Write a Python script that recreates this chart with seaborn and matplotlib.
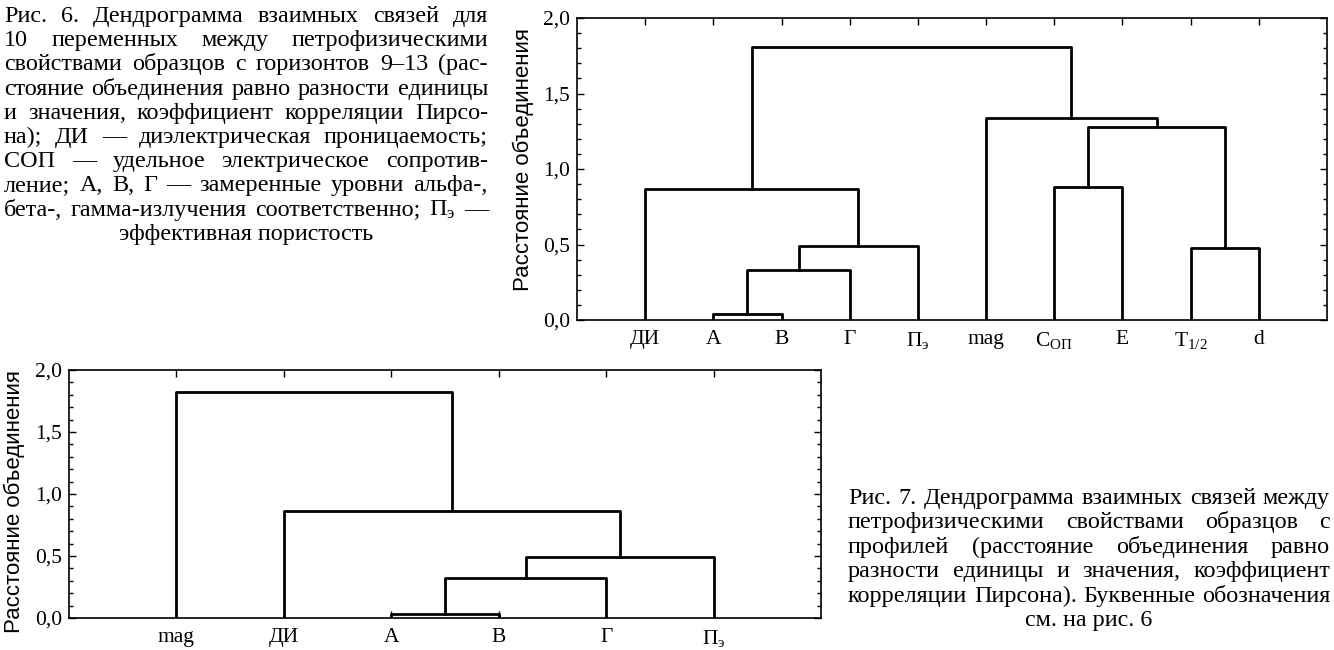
import numpy as np
import pandas as pd
import matplotlib
matplotlib.use("Agg")
import matplotlib.pyplot as plt
import seaborn as sns
from matplotlib.ticker import MultipleLocator, FixedLocator, FixedFormatter

# ---------------- data ----------------
# Fig. 6 (top): leaves in dendrogram order
leaves_top = ["ДИ", "А", "В", "Г", r"П$_{\mathregular{э}}$", "mag",
              r"С$_{\mathregular{ОП}}$", "Е", r"T$_{\mathregular{1/2}}$", "d"]
# merges: (child_a, child_b, height); new cluster ids start at len(leaves)
merge_a_top = [1, 10, 11, 0, 6, 8, 14, 5, 13]
merge_b_top = [2, 3, 4, 12, 7, 9, 15, 16, 17]
merge_h_top = [0.04, 0.33, 0.49, 0.87, 0.88, 0.48, 1.28, 1.34, 1.81]

# Fig. 7 (bottom)
leaves_bot = ["mag", "ДИ", "А", "В", "Г", r"П$_{\mathregular{э}}$"]
merge_a_bot = [2, 6, 7, 1, 0]
merge_b_bot = [3, 4, 5, 8, 9]
merge_h_bot = [0.035, 0.32, 0.49, 0.86, 1.82]

yticks = [0.0, 0.5, 1.0, 1.5, 2.0]
ytick_labels = ["0,0", "0,5", "1,0", "1,5", "2,0"]
ylabel = "Расстояние объединения"

caption6 = [
    "Рис. 6. Дендрограмма взаимных связей для",
    "10 переменных между петрофизическими",
    "свойствами образцов с горизонтов 9–13 (рас-",
    "стояние объединения равно разности единицы",
    "и значения, коэффициент корреляции Пирсо-",
    "на); ДИ — диэлектрическая проницаемость;",
    "СОП — удельное электрическое сопротив-",
    "ление; А, В, Г — замеренные уровни альфа-,",
    r"бета-, гамма-излучения соответственно; П$_{\mathregular{э}}$ —",
    "эффективная пористость",
]
caption7 = [
    "Рис. 7. Дендрограмма взаимных связей между",
    "петрофизическими свойствами образцов с",
    "профилей (расстояние объединения равно",
    "разности единицы и значения, коэффициент",
    "корреляции Пирсона). Буквенные обозначения",
    "см. на рис. 6",
]

# ---------------- style ----------------
sns.set_theme(style="white")
plt.rcParams["font.family"] = ["Liberation Serif", "DejaVu Serif"]
plt.rcParams["mathtext.fontset"] = "custom"
plt.rcParams["mathtext.rm"] = "Liberation Serif"
plt.rcParams["mathtext.it"] = "Liberation Serif:italic"
plt.rcParams["mathtext.bf"] = "Liberation Serif:bold"

W, H = 1334, 650
fig = plt.figure(figsize=(W / 100, H / 100), dpi=100)
fig.patch.set_facecolor("white")


def dendro_frame(leaves, ma, mb, mh):
    n = len(leaves)
    xs = {i: float(i) for i in range(n)}
    ys = {i: 0.0 for i in range(n)}
    rows = []
    for k, (a, b, h) in enumerate(zip(ma, mb, mh)):
        node = n + k
        pts = [(xs[a], ys[a]), (xs[a], h), (xs[b], h), (xs[b], ys[b])]
        for j, (x, y) in enumerate(pts):
            rows.append({"link": k, "order": j, "x": x, "y": y})
        xs[node] = (xs[a] + xs[b]) / 2.0
        ys[node] = h
    return pd.DataFrame(rows)


def draw(rect, leaves, ma, mb, mh, ylab_pos):
    ax = fig.add_axes(rect)
    df = dendro_frame(leaves, ma, mb, mh)
    sns.lineplot(data=df, x="x", y="y", units="link", estimator=None,
                 sort=False, color="black", linewidth=2.0, ax=ax, legend=False)
    n = len(leaves)
    ax.set_xlim(-1, n)
    ax.set_ylim(0, 2.0)
    ax.xaxis.set_major_locator(FixedLocator(list(range(n))))
    ax.xaxis.set_major_formatter(FixedFormatter(leaves))
    ax.yaxis.set_major_locator(FixedLocator(yticks))
    ax.yaxis.set_major_formatter(FixedFormatter(ytick_labels))
    ax.yaxis.set_minor_locator(MultipleLocator(0.1))
    ax.tick_params(axis="both", which="both", direction="in", top=True,
                   right=True, bottom=True, left=True, color="black",
                   width=1.0)
    ax.tick_params(axis="both", which="major", length=5, labelsize=15.5,
                   labelcolor="black")
    ax.tick_params(axis="x", which="major", pad=7)
    ax.tick_params(axis="y", which="major", pad=5)
    ax.tick_params(axis="y", which="minor", length=3)
    for lab in ax.get_xticklabels() + ax.get_yticklabels():
        lab.set_fontfamily(["Liberation Serif", "DejaVu Serif"])
    for s in ax.spines.values():
        s.set_color("black")
        s.set_linewidth(1.2)
        s.set_visible(True)
    ax.set_xlabel("")
    ax.set_ylabel(ylabel, fontsize=16, family=["Liberation Sans", "DejaVu Sans"],
                  color="black")
    ax.yaxis.set_label_coords(*ylab_pos)
    ax.set_facecolor("white")
    return ax


# pixel layout -> figure fractions
def rect_px(l, t, r, b):
    return [l / W, (H - b) / H, (r - l) / W, (b - t) / H]


draw(rect_px(577, 18, 1327, 320), leaves_top, merge_a_top, merge_b_top,
     merge_h_top, (-0.058, 0.53))
draw(rect_px(69, 370, 821, 618), leaves_bot, merge_a_bot, merge_b_bot,
     merge_h_bot, (-0.058, 0.47))

# ---------------- justified captions ----------------
renderer = fig.canvas.get_renderer()


def natural_width(line, fs):
    t = fig.text(0, 0, line, fontsize=fs)
    w = t.get_window_extent(renderer).width
    t.remove()
    return w


# font size chosen so that a tight (unstretched) line fills the column
CAP_FS = 14 * (482.0 / natural_width(caption7[0], 14)) * 0.99


def justified(lines, x0, x1, y_first, dy, last_center=True):
    for i, line in enumerate(lines):
        yb = y_first + i * dy
        ypos = 1 - yb / H
        last = (i == len(lines) - 1)
        if last and last_center:
            fig.text((x0 + x1) / 2 / W, ypos, line, fontsize=CAP_FS,
                     ha="center", va="baseline", color="black")
            continue
        words = line.split(" ")
        objs = []
        widths = []
        for w in words:
            t = fig.text(0, ypos, w, fontsize=CAP_FS, ha="left",
                         va="baseline", color="black")
            objs.append(t)
            widths.append(t.get_window_extent(renderer).width)
        gap = (x1 - x0 - sum(widths)) / max(len(words) - 1, 1)
        x = x0
        for t, wd in zip(objs, widths):
            t.set_x(x / W)
            x += wd + gap


justified(caption6, 4, 488, 22, 24.2)
justified(caption7, 848, 1330, 504, 24.4)

fig.savefig("out.png", dpi=100, facecolor="white")
